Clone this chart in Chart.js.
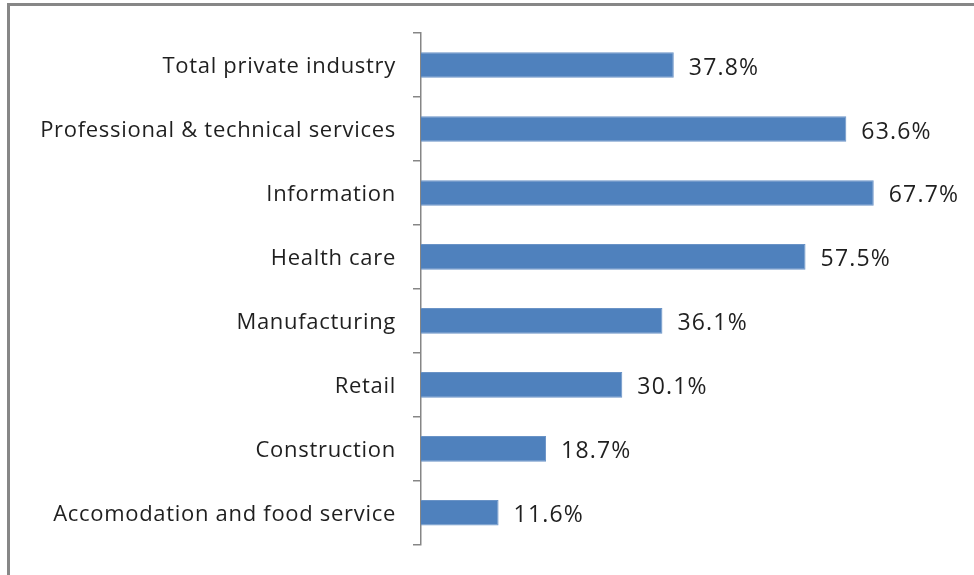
<!DOCTYPE html>
<html>
<head>
<meta charset="utf-8">
<script src="https://cdn.jsdelivr.net/npm/chart.js@4"></script>
<style>
html,body{margin:0;padding:0;background:#fff;}
#wrap{width:974px;height:575px;position:relative;}
</style>
</head>
<body>
<div id="wrap"><canvas id="c" width="974" height="575"></canvas></div>
<script>
const categories = [
  "Total private industry",
  "Professional & technical services",
  "Information",
  "Health care",
  "Manufacturing",
  "Retail",
  "Construction",
  "Accomodation and food service"
];
const values = [37.8, 63.6, 67.7, 57.5, 36.1, 30.1, 18.7, 11.6];
const valueLabels = ["37.8%", "63.6%", "67.7%", "57.5%", "36.1%", "30.1%", "18.7%", "11.6%"];

const FONT = "'Open Sans', sans-serif";

const frame = {
  id: 'frame',
  beforeDraw(chart) {
    const ctx = chart.ctx;
    ctx.save();
    ctx.fillStyle = '#fff';
    ctx.fillRect(0, 0, chart.width, chart.height);
    ctx.strokeStyle = '#878787';
    ctx.lineWidth = 3;
    ctx.beginPath();
    ctx.moveTo(974, 4.5);
    ctx.lineTo(8.5, 4.5);
    ctx.lineTo(8.5, 575);
    ctx.stroke();
    ctx.restore();
    ctx.letterSpacing = '0.7px';
  }
};

const valueText = {
  id: 'valueText',
  afterDatasetsDraw(chart) {
    const ctx = chart.ctx;
    const meta = chart.getDatasetMeta(0);
    ctx.save();
    ctx.letterSpacing = '1.2px';
    ctx.font = "23px " + FONT;
    ctx.fillStyle = '#1f1f1f';
    ctx.textAlign = 'left';
    ctx.textBaseline = 'middle';
    meta.data.forEach((bar, i) => {
      ctx.fillText(valueLabels[i], bar.x + 15, bar.y + 3);
    });
    ctx.restore();
  }
};

new Chart(document.getElementById('c'), {
  type: 'bar',
  data: {
    labels: categories,
    datasets: [{
      data: values,
      backgroundColor: '#4F81BD',
      borderColor: '#6a93c6',
      borderWidth: 1,
      categoryPercentage: 1,
      barPercentage: 0.4
    }]
  },
  options: {
    indexAxis: 'y',
    responsive: false,
    animation: false,
    layout: { padding: { left: 0, right: 18, top: 33, bottom: 25 } },
    plugins: { legend: { display: false }, tooltip: { enabled: false } },
    scales: {
      x: { display: false, min: 0, max: 80 },
      y: {
        offset: true,
        afterFit(scale) { scale.width = 421; },
        border: { display: true, color: '#868686', width: 1.5 },
        grid: {
          offset: true,
          drawOnChartArea: false,
          drawTicks: true,
          tickLength: 8,
          color: '#868686',
          lineWidth: 1.5
        },
        ticks: {
          color: '#1f1f1f',
          padding: 17,
          labelOffset: 2,
          font: { family: FONT, size: 22 }
        }
      }
    }
  },
  plugins: [frame, valueText]
});
</script>
</body>
</html>
